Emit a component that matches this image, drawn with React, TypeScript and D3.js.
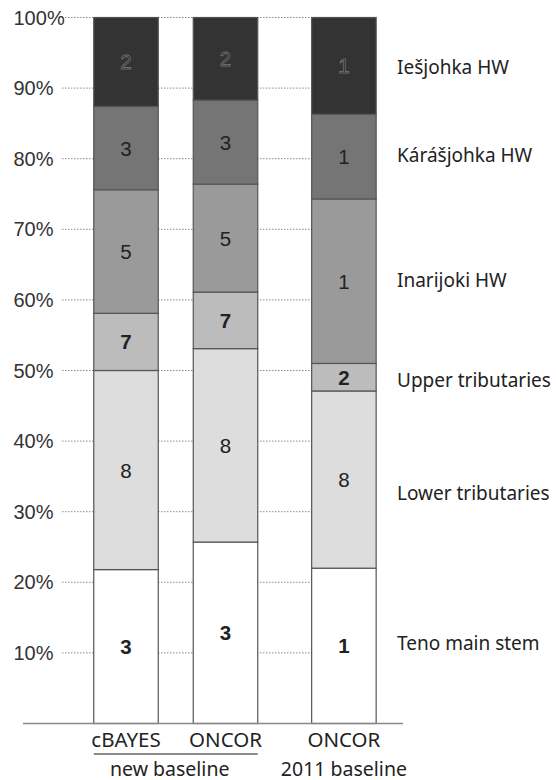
import * as d3 from "d3";

// stacked shares (%) per source, bottom to top
const regions = [
  "Teno main stem",
  "Lower tributaries",
  "Upper tributaries",
  "Inarijoki HW",
  "Kárášjohka HW",
  "Iešjohka HW",
];
const bars = ["cBAYES", "ONCOR", "ONCOR"];
const groups = ["new baseline", "new baseline", "2011 baseline"];
const shares = [
  [21.8, 28.2, 8.1, 17.5, 11.8, 12.6],
  [25.7, 27.4, 8.0, 15.3, 11.9, 11.7],
  [22.0, 25.1, 3.9, 23.3, 12.0, 13.7],
];
// number of baseline populations per region (labels inside the segments)
const counts = [
  [3, 8, 7, 5, 3, 2],
  [3, 8, 7, 5, 3, 2],
  [1, 8, 2, 1, 1, 1],
];
// where each region name sits on the value axis (%)
const labelLevels = [11.4, 32.6, 48.7, 62.8, 80.5, 93];
const ticks = [10, 20, 30, 40, 50, 60, 70, 80, 90, 100];

const fills = ["#ffffff", "#dddddd", "#bcbcbc", "#9a9a9a", "#757575", "#333333"];

export default function App() {
  const W = 556;
  const H = 780;
  const barW = 64.5;

  const y = d3.scaleLinear().domain([0, 100]).range([723.5, 17.5]);
  // second group shifted by an extra gap
  const x = d3.scaleLinear().domain([0, 1]).range([126, 225.5]);
  const slot = (i: number) => i + (groups[i] !== groups[0] ? 0.19 : 0);

  const stacked = shares.map((s) => {
    let acc = 0;
    return s.map((v) => {
      const d = { y0: acc, y1: acc + v };
      acc += v;
      return d;
    });
  });

  const groupNames = Array.from(new Set(groups));

  return (
    <svg
      width={W}
      height={H}
      style={{ position: "absolute", left: 0, top: 0, background: "#fff" }}
    >
      {/* gridlines */}
      {ticks.map((t) => (
        <g key={t}>
          <line
            x1={62}
            x2={376}
            y1={y(t)}
            y2={y(t)}
            stroke="#8a8a8a"
            strokeWidth={1}
            strokeDasharray="1.5 1.5"
          />
          <text
            x={13.5}
            y={y(t)}
            dominantBaseline="central"
            fontFamily="Liberation Sans, Arial, sans-serif"
            fontSize={20}
            fill="#333"
          >
            {t}%
          </text>
        </g>
      ))}

      {/* bars */}
      {stacked.map((segs, i) => {
        const cx = x(slot(i));
        return (
          <g key={i}>
            {segs.map((d, j) => (
              <rect
                key={j}
                x={cx - barW / 2}
                y={y(d.y1)}
                width={barW}
                height={y(d.y0) - y(d.y1)}
                fill={fills[j]}
                stroke="#555"
                strokeWidth={1.2}
              />
            ))}
            {segs.map((d, j) => (
              <text
                key={"t" + j}
                x={cx}
                y={y((d.y0 + d.y1) / 2)}
                textAnchor="middle"
                dominantBaseline="central"
                fontFamily="Liberation Sans, Arial, sans-serif"
                fontSize={20.5}
                fontWeight={j === 0 || j === 2 ? "bold" : "normal"}
                fill={j === 5 ? "#1e1e1e" : "#222"}
                stroke={j === 5 ? "#6e6e6e" : "none"}
                strokeWidth={0.9}
              >
                {counts[i][j]}
              </text>
            ))}
            <text
              x={cx}
              y={739}
              textAnchor="middle"
              dominantBaseline="central"
              fontFamily="Noto Sans, sans-serif"
              fontSize={20.5}
              fill="#222"
            >
              {bars[i]}
            </text>
          </g>
        );
      })}

      {/* baseline */}
      <line x1={23} x2={403} y1={y(0)} y2={y(0)} stroke="#888" strokeWidth={1.5} />

      {/* group labels */}
      {groupNames.map((g) => {
        const idx = groups.map((v, i) => (v === g ? i : -1)).filter((i) => i >= 0);
        const left = x(slot(idx[0])) - barW / 2;
        const right = x(slot(idx[idx.length - 1])) + barW / 2;
        return (
          <g key={g}>
            {idx.length > 1 && (
              <line x1={left} x2={right} y1={754} y2={754} stroke="#666" strokeWidth={1.5} />
            )}
            <text
              x={(left + right) / 2 - (idx.length > 1 ? 6 : 0)}
              y={768}
              textAnchor="middle"
              dominantBaseline="central"
              fontFamily="Noto Sans, sans-serif"
              fontSize={19.5}
              fill="#222"
            >
              {g}
            </text>
          </g>
        );
      })}

      {/* region names */}
      {regions.map((r, j) => (
        <text
          key={r}
          x={397}
          y={y(labelLevels[j])}
          dominantBaseline="central"
          fontFamily="Noto Sans, sans-serif"
          fontSize={19}
          fill="#222"
        >
          {r}
        </text>
      ))}
    </svg>
  );
}
